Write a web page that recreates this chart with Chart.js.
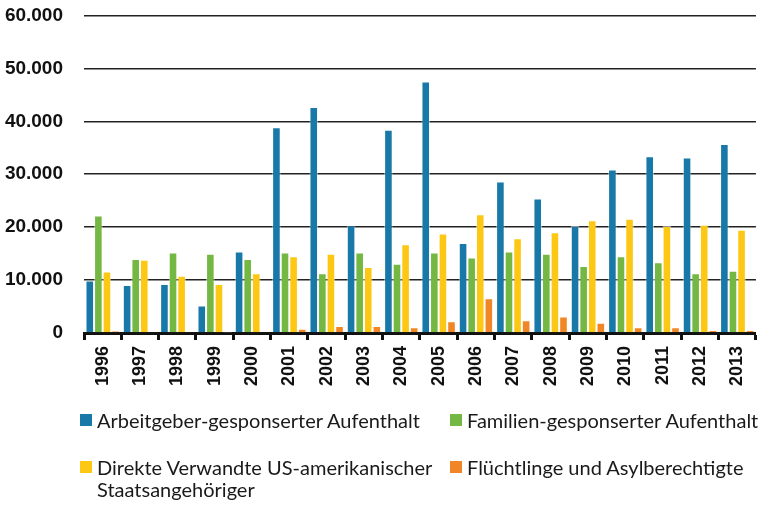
<!DOCTYPE html>
<html>
<head>
<meta charset="utf-8">
<script src="https://cdn.jsdelivr.net/npm/chart.js@4/dist/chart.umd.min.js"></script>
<style>
  body { margin: 0; background: #fff; overflow: hidden; }
  #wrap { position: absolute; left: 0; top: -17px; width: 765px; height: 417px; }
  #legend {
    position: absolute; left: 0; top: 0; width: 765px; height: 505px;
    font-family: Lato, "Noto Sans", sans-serif;
    font-size: 20px; line-height: 22px; color: #1a1a1a;
  }
  .item { position: absolute; display: flex; align-items: flex-start; }
  .box { width: 12px; height: 12px; margin: 5px 5px 0 0; flex: none; }
</style>
</head>
<body>
<div id="wrap"><canvas id="chart"></canvas></div>
<div id="legend"></div>
<script>
const years = ["1996","1997","1998","1999","2000","2001","2002","2003","2004","2005",
               "2006","2007","2008","2009","2010","2011","2012","2013"];
const seriesNames = [
  "Arbeitgeber-gesponserter Aufenthalt",
  "Familien-gesponserter Aufenthalt",
  "Direkte Verwandte US-amerikanischer Staatsangehöriger",
  "Flüchtlinge und Asylberechtigte"
];
const arbeitgeber = [9900, 9050, 9250, 5200, 15400, 38850, 42700, 20350, 38400, 47500,
                     17000, 28600, 25400, 20200, 30900, 33400, 33150, 35700];
const familien = [22200, 14000, 15200, 14950, 14000, 15200, 11300, 15200, 13100, 15200,
                  14250, 15400, 14950, 12650, 14500, 13350, 11300, 11750];
const verwandte = [11600, 13850, 10800, 9250, 11300, 14500, 14950, 12450, 16750, 18800,
                   22450, 17900, 19050, 21300, 21600, 20200, 20450, 19500];
const fluechtlinge = [400, 100, 80, 60, 100, 800, 1330, 1330, 1080, 2220,
                      6580, 2400, 3100, 1950, 1080, 1080, 570, 570];
const colors = ["#1878a8", "#74b843", "#fdc814", "#f08626"];

const seriesData = [arbeitgeber, familien, verwandte, fluechtlinge];

const config = {
    type: 'bar',
    data: {
        labels: years,
        datasets: seriesData.map(function (d, i) {
            return {
                label: seriesNames[i],
                data: d,
                backgroundColor: colors[i],
                borderColor: 'rgba(255,255,255,0.5)',
                borderWidth: 1,
                categoryPercentage: 0.92,
                barPercentage: 1.0
            };
        })
    },
    options: {
        responsive: true,
        maintainAspectRatio: false,
        animation: false,
        layout: { padding: { top: 0, right: 5, left: 0, bottom: 0 } },
        plugins: { legend: { display: false }, tooltip: { enabled: false } },
        scales: {
            x: {
                offset: true,
                afterFit: function (scale) { scale.height = 67; },
                grid: {
                    offset: true, drawOnChartArea: false, drawTicks: true,
                    tickLength: 7, tickWidth: 3, tickColor: '#111'
                },
                border: { display: true, color: '#111', width: 3 },
                ticks: {
                    minRotation: 90, maxRotation: 90, padding: 6,
                    color: '#111',
                    font: { family: "Liberation Sans", size: 18, weight: 'bold' }
                }
            },
            y: {
                min: 0, max: 60000,
                afterFit: function (scale) { scale.width = 84; },
                grid: { color: '#222', lineWidth: 1.5, drawTicks: false },
                border: { display: false },
                ticks: {
                    stepSize: 10000, padding: 21, color: '#111',
                    font: { family: "Liberation Sans", size: 19, weight: 'bold' },
                    callback: function (v) { return v === 0 ? "0" : (v / 1000) + ".000"; }
                }
            }
        }
    }
};
const canvas = document.getElementById("chart").getContext("2d");
const chart = new Chart(canvas, config);

// legend in two columns like the original
const spots = [[80, 409], [450, 409], [80, 456], [450, 456]];
const legend = document.getElementById("legend");
seriesNames.forEach(function (name, i) {
    const item = document.createElement("div");
    item.className = "item";
    item.style.left = spots[i][0] + "px";
    item.style.top = spots[i][1] + "px";
    const box = document.createElement("span");
    box.className = "box";
    box.style.background = colors[i];
    const txt = document.createElement("span");
    txt.textContent = name;
    if (i === 2) { txt.style.width = "345px"; }
    else { txt.style.whiteSpace = "nowrap"; }
    item.appendChild(box);
    item.appendChild(txt);
    legend.appendChild(item);
});
</script>
</body>
</html>
